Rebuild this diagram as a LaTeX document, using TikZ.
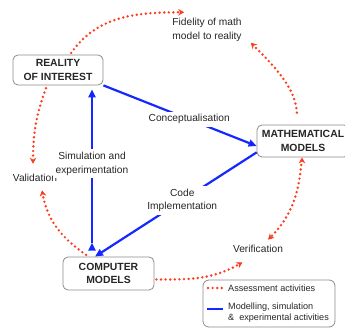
\documentclass[tikz,border=0pt]{standalone}
\usepackage{fontspec}
\setmainfont{Liberation Sans}
\usetikzlibrary{arrows.meta}
\definecolor{assessred}{RGB}{255,60,30}
\definecolor{modelblue}{RGB}{20,40,255}

\begin{document}
\begin{tikzpicture}[
    x=1pt, y=1pt,
    font=\fontsize{10.2}{13.5}\selectfont,
    text=black!85,
    box/.style={draw=black!45, line width=0.8pt, rounded corners=5pt, fill=white,
        align=center, inner sep=0pt, font=\fontsize{10.4}{13.5}\selectfont\bfseries},
    lbl/.style={align=center, fill=white, inner sep=3pt},
    model/.style={draw=modelblue, line width=2.2pt, -{Triangle[length=8pt,width=7pt]}},
    assess/.style={draw=assessred, line width=2.7pt, line cap=round,
        dash pattern=on 0pt off 4.6pt, -{Stealth[length=6pt,width=6.5pt]}}
]
    \useasboundingbox (0,0) rectangle (345,331);

    % Models
    \node[box, minimum width=90pt, minimum height=30pt] (reality) at (58,261) {REALITY\\OF INTEREST};
    \node[box, minimum width=92pt, minimum height=32pt] (math) at (303,190) {MATHEMATICAL\\MODELS};
    \node[box, minimum width=91pt, minimum height=33pt] (computer) at (108.5,57.5) {COMPUTER\\MODELS};

    % Assessment labels
    \node[lbl] (fidelity) at (207,301) {Fidelity of math\\model to reality};
    \node (validation) at (35,153) {Validation};
    \node (verification) at (258,82) {Verification};

    % Modelling, simulation and experiments
    \path[model]
        (reality.south east) edge node[lbl, pos=0.56] {Conceptualisation} ([yshift=-5pt]math.west)
        ([yshift=5pt]math.south west) edge node[lbl, pos=0.46] {Code\\Implementation} ([xshift=-13.5pt]computer.north)
        ([xshift=-16.5pt, yshift=14pt]computer.north) edge[shorten >=4pt] node[lbl, pos=0.5] {Simulation and\\experimentation} ([xshift=34pt]reality.south);

    % Assessment
    \path[assess]
        ([xshift=12pt]reality.north) edge[out=55, in=180, shorten <=2pt] ([xshift=15pt, yshift=3pt]fidelity.north west)
        ([xshift=-5pt]math.north) edge[out=95, in=-45, shorten <=12pt] ([xshift=6pt, yshift=2pt]fidelity.south east)
        ([xshift=-11pt]reality.south) edge[out=250, in=90, shorten <=3pt] ([xshift=-2pt, yshift=7pt]validation.north)
        ([xshift=-20pt]computer.north) edge[out=145, in=-80, shorten <=3pt] ([xshift=7pt, yshift=-5pt]validation.south)
        ([yshift=-6pt]computer.east) edge[out=0, in=210, shorten <=2pt] ([xshift=13pt, yshift=-6pt]verification.south west)
        ([xshift=-1pt]math.south) edge[out=-95, in=45, shorten <=3pt] ([xshift=10pt, yshift=2pt]verification.north);

    % Legend
    \node[draw=black!45, line width=0.8pt, rounded corners=6pt, minimum width=132pt, minimum height=47pt] (legend) at (269,27.5) {};
    \draw[assess, -] (208,43) -- (222,43);
    \draw[draw=modelblue, line width=2.2pt] (207,22) -- (223,22);
    \node[anchor=west, inner sep=0pt, font=\fontsize{9.1}{11}\selectfont] (keyassess) at (228,43) {Assessment activities};
    \node[anchor=west, inner sep=0pt, align=left, font=\fontsize{9.1}{11}\selectfont] (keymodel) at (228,18.5) {Modelling, simulation\\\&\ \ experimental activities};
\end{tikzpicture}
\end{document}
